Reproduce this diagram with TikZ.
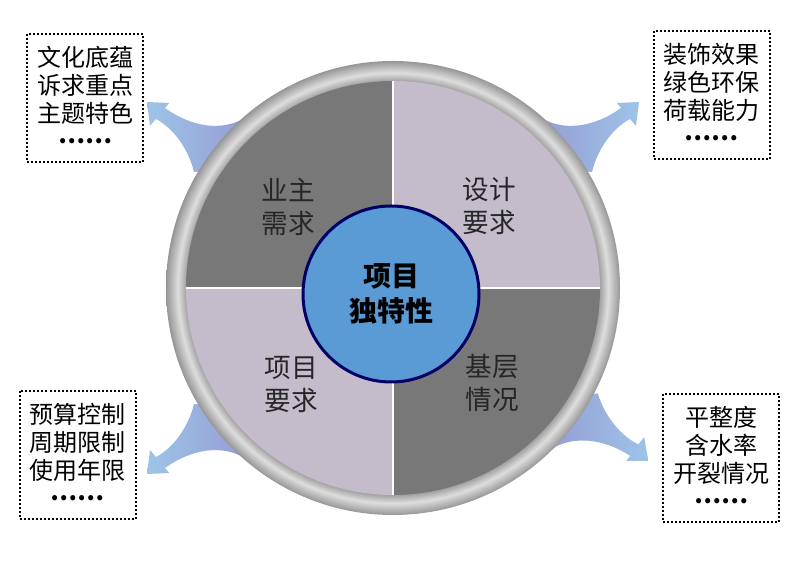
\documentclass[tikz,border=0pt]{standalone}
\usepackage{fontspec}
\newfontfamily\cjk{Noto Sans CJK SC}
\usepackage{xcolor}
\usetikzlibrary{positioning}

\definecolor{darkquad}{RGB}{120,120,120}
\definecolor{lightquad}{RGB}{196,188,203}
\definecolor{coreblue}{RGB}{91,155,213}
\definecolor{corenavy}{RGB}{0,0,102}
\definecolor{arrowbase}{RGB}{150,158,212}
\definecolor{arrowtip}{RGB}{157,196,232}
\definecolor{ringinner}{RGB}{150,150,150}
\definecolor{ringlight}{RGB}{222,222,222}
\definecolor{ringedge}{RGB}{150,150,150}
\pgfdeclareradialshading{ringshade}{\pgfpoint{0bp}{0bp}}{color(0bp)=(ringinner); color(22.6bp)=(ringinner); color(23.7bp)=(ringlight); color(25bp)=(ringedge); color(50bp)=(ringedge)}
\newcommand{\moredots}{{\bfseries\raisebox{0.28em}{……}}}

\begin{document}
\begin{tikzpicture}[
        x=0.5pt, y=0.5pt,
        quad/.style={font=\cjk\fontsize{13.3}{16.5}\selectfont, align=center, text=black!85},
        core/.style={circle, draw=corenavy, line width=1.5pt, fill=coreblue, minimum size=88pt, inner sep=0pt, font=\cjk\bfseries\fontsize{14}{17.5}\selectfont, align=center},
        note/.style={draw, densely dotted, line width=1pt, inner sep=0pt, minimum width=58pt, minimum height=64pt, align=center, font=\cjk\fontsize{12}{14}\selectfont},
        pointer/.style 2 args={left color=#1, right color=#2}
    ]
        \useasboundingbox (0,0) rectangle (812,571);
        \coordinate (hub) at (393,283);

        % Arrows behind the wheel
        \foreach \sx/\sy/\rot/\ca/\cb in {1/1/0/arrowbase/arrowtip, -1/1/0/arrowtip/arrowbase, -1/-1/0/arrowtip/arrowbase, 1/-1/3/arrowbase/arrowtip}{
            \begin{scope}[shift={(hub)}, rotate=\rot, xscale=\sx, yscale=\sy]
                \shade[pointer={\ca}{\cb}] (152,168) .. controls (172,158) and (200,160) .. (228,180) -- (224,185) -- (246,186) -- (243,162) -- (237,169) .. controls (220,160) and (205,140) .. (199,116) -- (150,120) -- cycle;
            \end{scope}
        }

        % Wheel
        \shade[shading=ringshade] (hub) circle[radius=227];
        \fill[darkquad] (hub) -- +(180:207) arc[start angle=180, end angle=90, radius=207] -- cycle;
        \fill[lightquad] (hub) -- +(90:207) arc[start angle=90, end angle=0, radius=207] -- cycle;
        \fill[darkquad] (hub) -- +(0:207) arc[start angle=0, end angle=-90, radius=207] -- cycle;
        \fill[lightquad] (hub) -- +(-90:207) arc[start angle=-90, end angle=-180, radius=207] -- cycle;
        \draw[white, line width=0.7pt] (186,283) -- (600,283);
        \draw[white, line width=0.7pt] (393,76) -- (393,490);

        % Centre
        \node[core] (core) at (391,277) {项目\\独特性};

        % Quarters
        \node[quad] (owner) at (288,364.5) {业主\\需求};
        \node[quad] (design) at (489,365) {设计\\要求};
        \node[quad] (project) at (291,186) {项目\\要求};
        \node[quad] (base) at (492.5,188.5) {基层\\情况};

        % Notes
        \node[note] (culture) at (85,473) {文化底蕴\\诉求重点\\主题特色\\\moredots};
        \node[note] (finish) at (711.5,475.5) {装饰效果\\绿色环保\\荷载能力\\\moredots};
        \node[note] (budget) at (77.5,115.5) {预算控制\\周期限制\\使用年限\\\moredots};
        \node[note] (floor) at (721,113) {平整度\\含水率\\开裂情况\\\moredots};
    \end{tikzpicture}
\end{document}
